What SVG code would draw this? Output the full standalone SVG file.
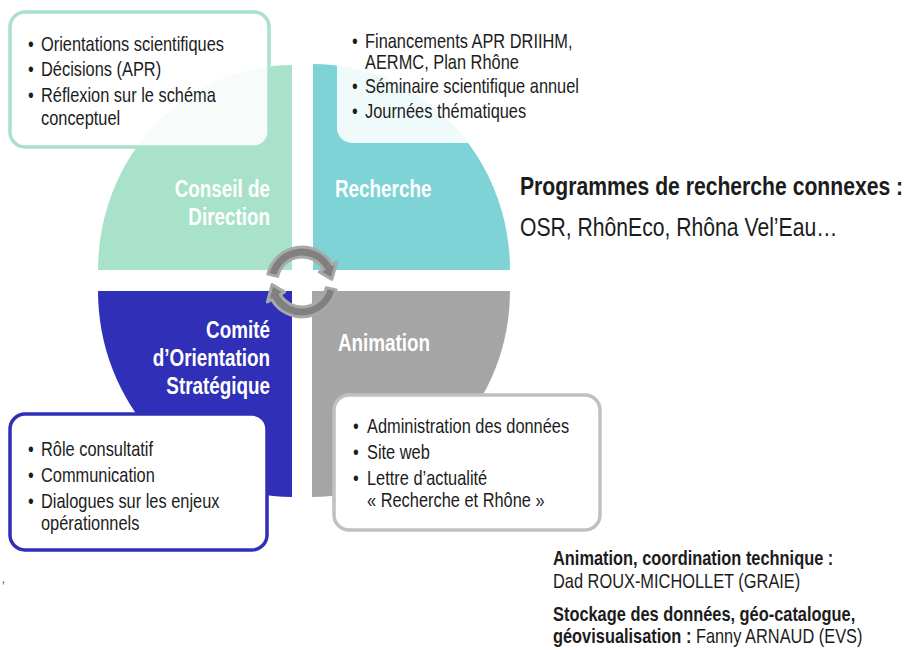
<svg xmlns="http://www.w3.org/2000/svg" width="904" height="650" viewBox="0 0 904 650">
<style>
text{font-family:"Liberation Sans",Arial,sans-serif;fill:#1c1c1c}
.t{font-size:20px}
.lbl{font-size:23px;font-weight:bold;fill:#ffffff}
.big{font-size:25.8px}
.b{font-weight:bold}
.box{fill:#ffffff;stroke-width:3.5}
.arr{fill:#808080;stroke:#a8a8a8;stroke-width:3;stroke-linejoin:round}
</style>
<rect width="904" height="650" fill="#ffffff"/>
<g id="quadrants">
<path id="q-conseil" d="M292 270 L98 270 A194 205 0 0 1 292 65 Z" fill="#a9e2cb"/>
<path id="q-recherche" d="M313 270 L313 64 A197 206 0 0 1 510 270 Z" fill="#7ed3d7"/>
<path id="q-comite" d="M292 291 L292 497 A194 206 0 0 1 98 291 Z" fill="#2f2fb7"/>
<path id="q-animation" d="M312 291 L510 291 A198 206 0 0 1 312 497 Z" fill="#a5a5a5"/>
</g>
<g id="labels">
<text class="lbl" transform="matrix(.82 0 0 1 270 197)" text-anchor="end">Conseil de</text>
<text class="lbl" transform="matrix(.82 0 0 1 270 225)" text-anchor="end">Direction</text>
<text class="lbl" transform="matrix(.82 0 0 1 335 197)">Recherche</text>
<text class="lbl" transform="matrix(.82 0 0 1 270 338)" text-anchor="end">Comité</text>
<text class="lbl" transform="matrix(.82 0 0 1 270 366)" text-anchor="end">d’Orientation</text>
<text class="lbl" transform="matrix(.82 0 0 1 270 394)" text-anchor="end">Stratégique</text>
<text class="lbl" transform="matrix(.82 0 0 1 338 351)">Animation</text>
</g>
<g id="connectors">
<path class="arr" d="M267.9 274.1 A35 35 0 0 1 332.3 264.5 L336.6 262 L331.9 279.4 L319.3 272 L323.65 269.5 A25 25 0 0 0 277.6 276.4 Z"/>
<path class="arr" transform="rotate(180 302 282)" d="M267.9 274.1 A35 35 0 0 1 332.3 264.5 L336.6 262 L331.9 279.4 L319.3 272 L323.65 269.5 A25 25 0 0 0 277.6 276.4 Z"/>
</g>
<g id="box-conseil">
<rect class="box" x="10" y="12" width="259" height="135" rx="15" stroke="#a9e2cb" fill-opacity="0.9"/>
<text class="t" transform="matrix(.82 0 0 1 28 50.5)">•</text><text class="t" transform="matrix(.82 0 0 1 41 50.5)">Orientations scientifiques</text>
<text class="t" transform="matrix(.82 0 0 1 28 76)">•</text><text class="t" transform="matrix(.82 0 0 1 41 76)">Décisions (APR)</text>
<text class="t" transform="matrix(.82 0 0 1 28 102)">•</text><text class="t" transform="matrix(.82 0 0 1 41 102)">Réflexion sur le schéma</text>
<text class="t" transform="matrix(.82 0 0 1 41 124.5)">conceptuel</text>
</g>
<g id="box-recherche">
<rect x="337" y="12" width="262" height="131" rx="15" fill="#ffffff" fill-opacity="0.88"/>
<text class="t" transform="matrix(.82 0 0 1 352 48)">•</text><text class="t" transform="matrix(.82 0 0 1 365 48)">Financements APR DRIIHM,</text>
<text class="t" transform="matrix(.82 0 0 1 365 69)">AERMC, Plan Rhône</text>
<text class="t" transform="matrix(.82 0 0 1 352 93)">•</text><text class="t" transform="matrix(.82 0 0 1 365 93)">Séminaire scientifique annuel</text>
<text class="t" transform="matrix(.82 0 0 1 352 117.5)">•</text><text class="t" transform="matrix(.82 0 0 1 365 117.5)">Journées thématiques</text>
</g>
<g id="box-comite">
<rect class="box" x="10" y="414" width="257" height="136" rx="15" stroke="#2f2fb7"/>
<text class="t" transform="matrix(.82 0 0 1 28 456)">•</text><text class="t" transform="matrix(.82 0 0 1 41 456)">Rôle consultatif</text>
<text class="t" transform="matrix(.82 0 0 1 28 482)">•</text><text class="t" transform="matrix(.82 0 0 1 41 482)">Communication</text>
<text class="t" transform="matrix(.82 0 0 1 28 508)">•</text><text class="t" transform="matrix(.82 0 0 1 41 508)">Dialogues sur les enjeux</text>
<text class="t" transform="matrix(.82 0 0 1 41 530)">opérationnels</text>
</g>
<g id="box-animation">
<rect class="box" x="334" y="395" width="266" height="135" rx="15" stroke="#c0c0c0"/>
<text class="t" transform="matrix(.82 0 0 1 353 433)">•</text><text class="t" transform="matrix(.82 0 0 1 367 433)">Administration des données</text>
<text class="t" transform="matrix(.82 0 0 1 353 459)">•</text><text class="t" transform="matrix(.82 0 0 1 367 459)">Site web</text>
<text class="t" transform="matrix(.82 0 0 1 353 485)">•</text><text class="t" transform="matrix(.82 0 0 1 367 485)">Lettre d’actualité</text>
<text class="t" transform="matrix(.82 0 0 1 367 507)">« Recherche et Rhône »</text>
</g>
<g id="programmes">
<text class="big b" transform="matrix(.82 0 0 1 520 195)">Programmes de recherche connexes :</text>
<text class="big" transform="matrix(.82 0 0 1 520 236)">OSR, RhônEco, Rhôna Vel’Eau…</text>
</g>
<g id="credits">
<text class="t b" transform="matrix(.82 0 0 1 553 565)">Animation, coordination technique :</text>
<text class="t" transform="matrix(.82 0 0 1 553 588)">Dad ROUX-MICHOLLET (GRAIE)</text>
<text class="t b" transform="matrix(.82 0 0 1 553 621)">Stockage des données, géo-catalogue,</text>
<text class="t" transform="matrix(.82 0 0 1 553 643)"><tspan class="b">géovisualisation :</tspan> Fanny ARNAUD (EVS)</text>
</g>
<text transform="matrix(.82 0 0 1 2 583)" style="font-size:12px">,</text>
</svg>
